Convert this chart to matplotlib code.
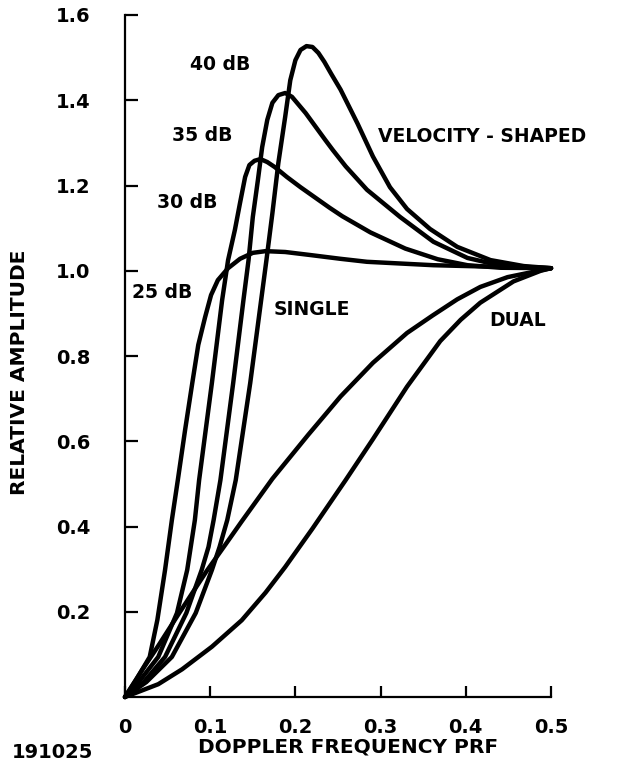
import matplotlib
matplotlib.use("Agg")
import matplotlib.pyplot as plt

# ---- data ----
x_25 = [0, 0.013, 0.029, 0.038, 0.047, 0.055, 0.062, 0.0705, 0.079, 0.086, 0.094, 0.101, 0.109,
        0.121, 0.135, 0.150, 0.165, 0.188, 0.217, 0.253, 0.284, 0.362, 0.441, 0.5]
y_25 = [0, 0.040, 0.094, 0.181, 0.298, 0.415, 0.509, 0.626, 0.737, 0.826, 0.891, 0.943, 0.978,
        1.006, 1.028, 1.042, 1.046, 1.044, 1.037, 1.028, 1.021, 1.013, 1.009, 1.006]

x_30 = [0, 0.018, 0.039, 0.061, 0.073, 0.082, 0.087, 0.102, 0.114, 0.121, 0.129, 0.135, 0.141,
        0.146, 0.152, 0.159, 0.167, 0.176, 0.190, 0.206, 0.240, 0.255, 0.288, 0.329, 0.367,
        0.402, 0.441, 0.5]
y_30 = [0, 0.040, 0.094, 0.197, 0.298, 0.415, 0.509, 0.737, 0.931, 1.025, 1.096, 1.159, 1.220,
        1.248, 1.258, 1.262, 1.255, 1.243, 1.220, 1.196, 1.148, 1.128, 1.090, 1.052, 1.027,
        1.013, 1.007, 1.006]

x_35 = [0, 0.022, 0.047, 0.072, 0.090, 0.098, 0.104, 0.112, 0.127, 0.139, 0.145, 0.150, 0.156,
        0.161, 0.167, 0.173, 0.180, 0.188, 0.196, 0.212, 0.235, 0.244, 0.259, 0.284, 0.323,
        0.362, 0.402, 0.441, 0.5]
y_35 = [0, 0.035, 0.094, 0.197, 0.298, 0.352, 0.415, 0.509, 0.737, 0.931, 1.025, 1.126, 1.213,
        1.290, 1.354, 1.394, 1.412, 1.417, 1.408, 1.370, 1.307, 1.283, 1.245, 1.190, 1.126,
        1.068, 1.030, 1.012, 1.006]

x_40 = [0, 0.025, 0.055, 0.083, 0.102, 0.111, 0.120, 0.130, 0.147, 0.166, 0.173, 0.180, 0.188,
        0.194, 0.200, 0.206, 0.213, 0.220, 0.227, 0.234, 0.242, 0.253, 0.273, 0.291, 0.311,
        0.331, 0.358, 0.390, 0.429, 0.468, 0.5]
y_40 = [0, 0.035, 0.094, 0.197, 0.298, 0.352, 0.415, 0.509, 0.737, 1.025, 1.135, 1.253, 1.361,
        1.447, 1.494, 1.518, 1.527, 1.525, 1.511, 1.490, 1.462, 1.425, 1.345, 1.268, 1.196,
        1.145, 1.098, 1.056, 1.025, 1.011, 1.006]

x_single = [0, 0.020, 0.039, 0.063, 0.079, 0.096, 0.118, 0.137, 0.173, 0.215, 0.253, 0.291,
            0.331, 0.361, 0.390, 0.417, 0.449, 0.5]
y_single = [0, 0.063, 0.120, 0.195, 0.244, 0.296, 0.358, 0.412, 0.512, 0.615, 0.705, 0.784,
            0.854, 0.895, 0.933, 0.962, 0.985, 1.006]

x_dual = [0, 0.039, 0.067, 0.102, 0.137, 0.165, 0.188, 0.220, 0.259, 0.291, 0.331, 0.370,
          0.394, 0.417, 0.456, 0.488, 0.5]
y_dual = [0, 0.030, 0.065, 0.118, 0.180, 0.245, 0.305, 0.395, 0.509, 0.605, 0.728, 0.835,
          0.885, 0.925, 0.975, 1.000, 1.006]

x_ticks = [0, 0.1, 0.2, 0.3, 0.4, 0.5]
x_tick_labels = ["0", "0.1", "0.2", "0.3", "0.4", "0.5"]
y_ticks = [0.2, 0.4, 0.6, 0.8, 1.0, 1.2, 1.4, 1.6]
y_tick_labels = ["0.2", "0.4", "0.6", "0.8", "1.0", "1.2", "1.4", "1.6"]

# ---- figure ----
W, H = 633, 764
fig = plt.figure(figsize=(W / 100, H / 100), dpi=100)
ax = fig.add_axes([125 / W, 1 - 697 / H, (551 - 125) / W, (697 - 15) / H])

lw = 3.2
for xs, ys in [(x_25, y_25), (x_30, y_30), (x_35, y_35), (x_40, y_40),
               (x_single, y_single), (x_dual, y_dual)]:
    ax.plot(xs, ys, color="black", lw=lw, solid_joinstyle="round",
            solid_capstyle="round", clip_on=False)

ax.set_xlim(0, 0.5)
ax.set_ylim(0, 1.6)
for s in ["top", "right"]:
    ax.spines[s].set_visible(False)
for s in ["left", "bottom"]:
    ax.spines[s].set_linewidth(1.6)

tfont = dict(fontsize=14, fontweight="bold", family="DejaVu Sans")
ax.set_xticks(x_ticks)
ax.set_xticklabels(x_tick_labels, **tfont)
ax.set_yticks(y_ticks)
ax.set_yticklabels(y_tick_labels, **tfont)
ax.tick_params(axis="x", direction="in", length=8, width=1.6, pad=15)
ax.tick_params(axis="y", direction="in", length=9, width=1.6, pad=25)

# curve labels
lab = dict(fontsize=13.5, fontweight="bold", family="DejaVu Sans", ha="left", va="center")
ax.text(0.076, 1.483, "40 dB", **lab)
ax.text(0.055, 1.318, "35 dB", **lab)
ax.text(0.038, 1.161, "30 dB", **lab)
ax.text(0.008, 0.950, "25 dB", **lab)
ax.text(0.174, 0.908, "SINGLE", **lab)
ax.text(0.297, 1.314, "VELOCITY - SHAPED", **lab)
ax.text(0.427, 0.884, "DUAL", **lab)

# axis titles
fig.text(348 / W, 1 - 747 / H, "DOPPLER FREQUENCY PRF", fontsize=14.5,
         fontweight="bold", ha="center", va="center")
fig.text(20 / W, 1 - 372 / H, "RELATIVE AMPLITUDE", fontsize=14.5,
         fontweight="bold", ha="center", va="center", rotation=90)
fig.text(12 / W, 1 - 752 / H, "191025", fontsize=14,
         fontweight="bold", ha="left", va="center")

fig.savefig("out.png", dpi=100)
